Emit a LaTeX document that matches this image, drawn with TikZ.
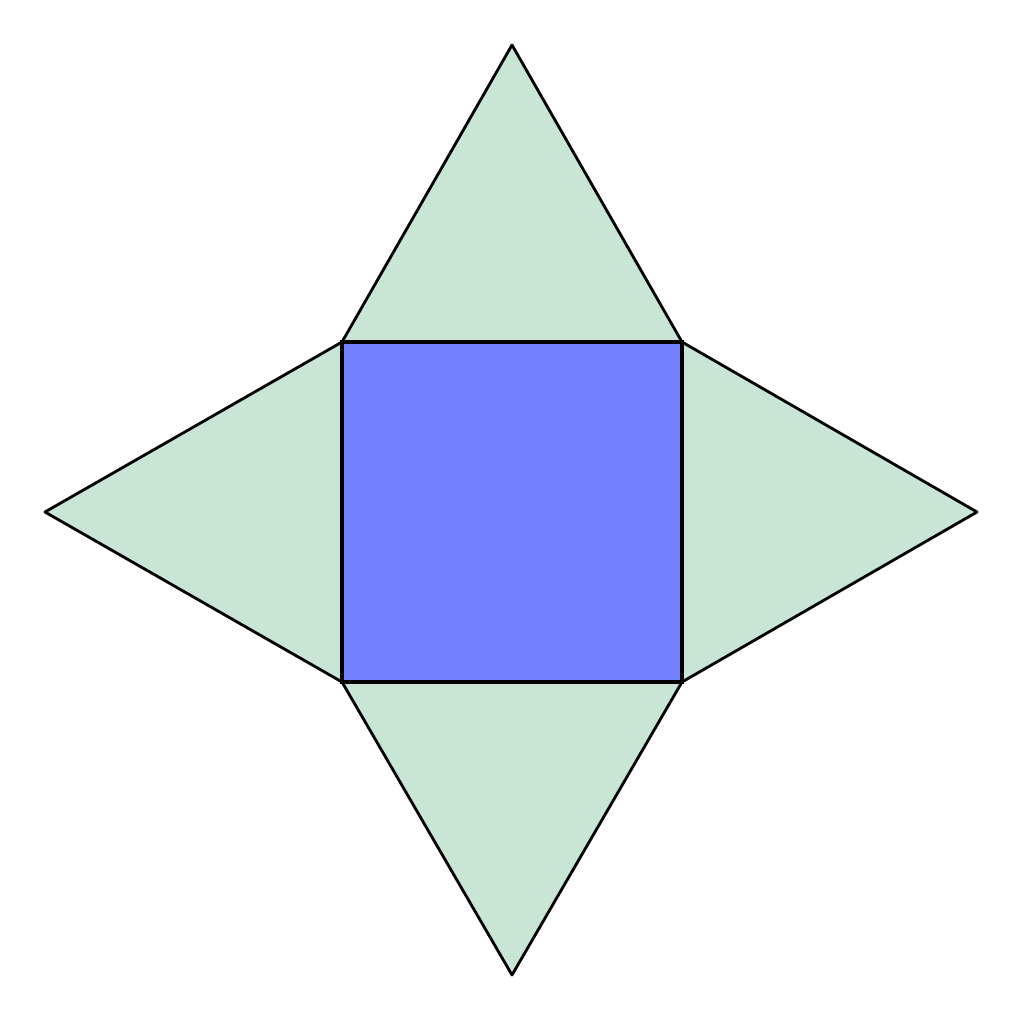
\documentclass[tikz,border=0pt]{standalone}
\definecolor{facegreen}{RGB}{201,229,213}
\definecolor{baseblue}{RGB}{116,128,255}
\begin{document}
\begin{tikzpicture}[x=0.02cm,y=-0.02cm,
  face/.style={fill=facegreen,draw=black,line width=1.6pt,line join=round},
  base/.style={fill=baseblue,draw=black,line width=2pt,line join=miter}]
\useasboundingbox (0,0) rectangle (1024,1024);
\coordinate (A) at (342,342);
\coordinate (B) at (682,342);
\coordinate (C) at (682,682);
\coordinate (D) at (342,682);
\coordinate (T) at (512,45);
\coordinate (R) at (977,512);
\coordinate (Bo) at (512,975);
\coordinate (L) at (45,512);
\draw[face] (A) -- (T) -- (B) -- cycle;
\draw[face] (B) -- (R) -- (C) -- cycle;
\draw[face] (C) -- (Bo) -- (D) -- cycle;
\draw[face] (D) -- (L) -- (A) -- cycle;
\draw[base] (A) -- (B) -- (C) -- (D) -- cycle;
\end{tikzpicture}
\end{document}
